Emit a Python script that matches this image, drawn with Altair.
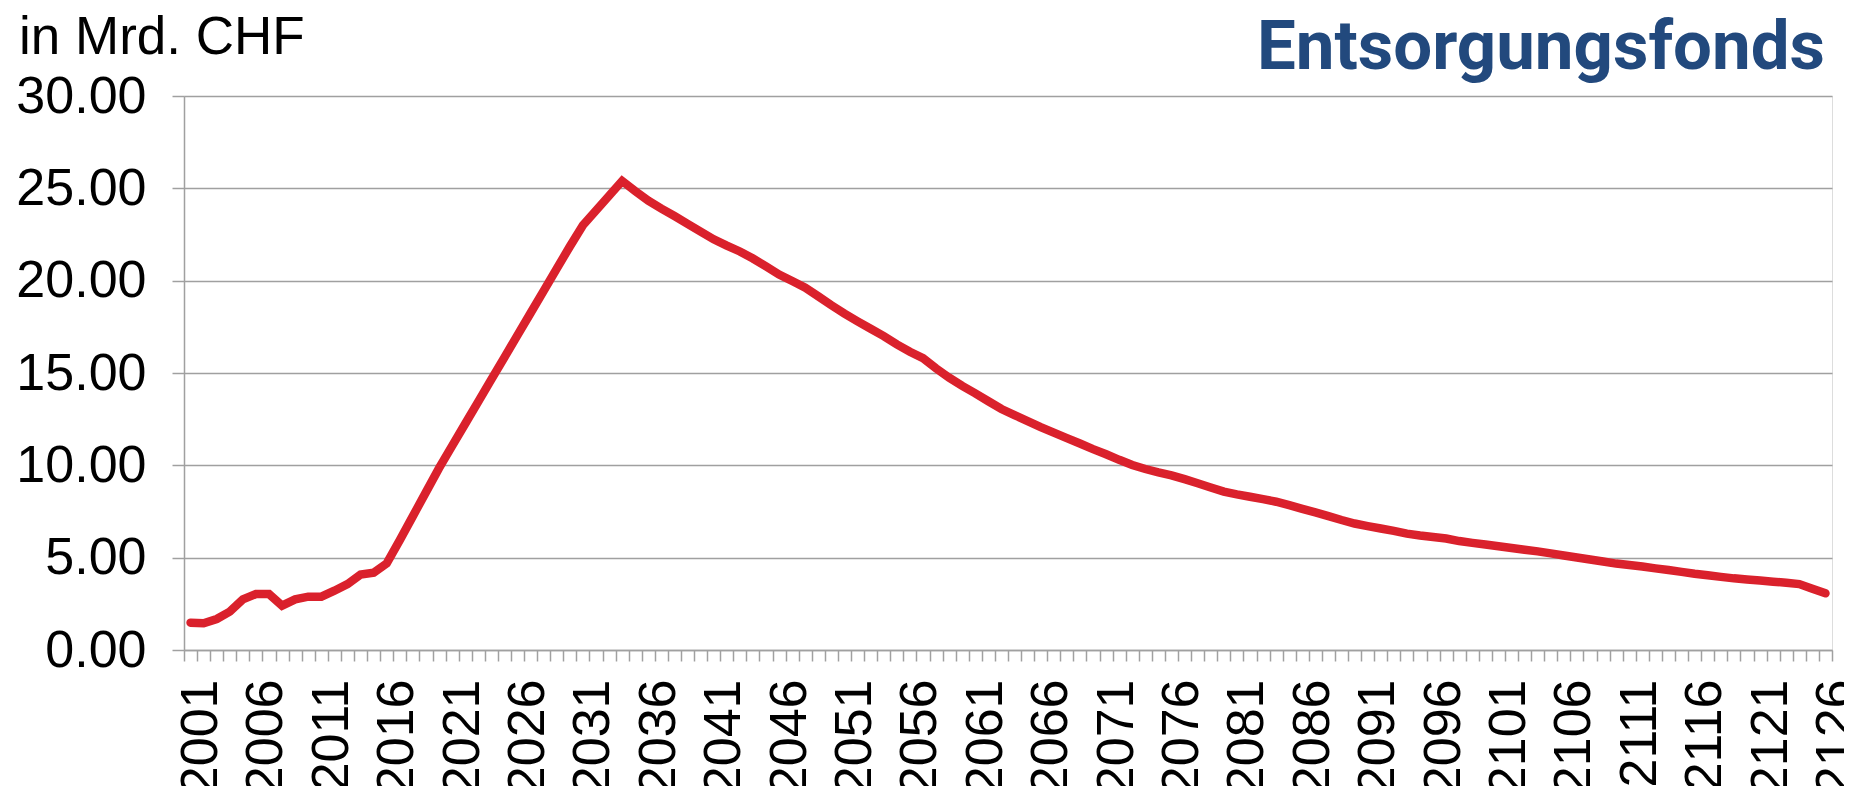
import altair as alt
import pandas as pd

years = list(range(2001, 2127))

values = [
    1.48, 1.45, 1.68, 2.08, 2.74, 3.03, 3.03, 2.40, 2.74, 2.89,
    2.89, 3.21, 3.57, 4.08, 4.19, 4.69, 5.95, 7.25, 8.55, 9.85,
    11.05, 12.25, 13.45, 14.65, 15.85, 17.05, 18.25, 19.45, 20.65, 21.85,
    23.00, 23.80, 24.60, 25.40, 24.85, 24.33, 23.90, 23.50, 23.08, 22.66,
    22.24, 21.90, 21.58, 21.20, 20.77, 20.33, 19.98, 19.62, 19.15, 18.67,
    18.22, 17.80, 17.40, 17.00, 16.55, 16.15, 15.80, 15.25, 14.75, 14.30,
    13.90, 13.47, 13.05, 12.72, 12.40, 12.07, 11.77, 11.47, 11.18, 10.88,
    10.60, 10.30, 10.02, 9.80, 9.62, 9.46, 9.25, 9.03, 8.80, 8.58,
    8.43, 8.30, 8.17, 8.03, 7.84, 7.64, 7.45, 7.25, 7.04, 6.85,
    6.71, 6.58, 6.45, 6.30, 6.20, 6.12, 6.04, 5.90, 5.80, 5.71,
    5.62, 5.52, 5.43, 5.34, 5.23, 5.12, 5.01, 4.90, 4.79, 4.68,
    4.60, 4.52, 4.42, 4.33, 4.23, 4.13, 4.05, 3.96, 3.88, 3.82,
    3.76, 3.70, 3.64, 3.57, 3.32, 3.07,
]

y_ticks = [0, 5, 10, 15, 20, 25, 30]
unit_label = ["in Mrd. CHF"]
title_label = ["Entsorgungsfonds"]

df = pd.DataFrame({"year": years, "value": values})

GRAY = "#A0A0A0"
FONT = "Liberation Sans"

line = alt.Chart(df).mark_line(
    color="#DA212C", strokeWidth=8.5, strokeCap="round", strokeJoin="miter"
).encode(
    x=alt.X(
        "year:O",
        scale=alt.Scale(type="band", paddingInner=0, paddingOuter=0),
        axis=alt.Axis(
            title=None,
            labelAngle=-90,
            labelExpr="(datum.value - 2001) % 5 == 0 ? datum.label : ''",
            labelOverlap=False,
            labelFlush=False,
            labelBound=False,
            labelFont=FONT,
            labelFontSize=52,
            labelColor="black",
            labelPadding=18,
            labelOffset=10,
            tickBand="extent",
            tickSize=11,
            tickColor=GRAY,
            tickWidth=1.5,
            domainColor=GRAY,
            domainWidth=1.5,
            grid=False,
        ),
    ),
    y=alt.Y(
        "value:Q",
        scale=alt.Scale(domain=[0, 30], nice=False, zero=True),
        axis=alt.Axis(
            title=None,
            values=y_ticks,
            format=".2f",
            labelFont=FONT,
            labelFontSize=52,
            labelColor="black",
            labelPadding=26,
            tickSize=12,
            tickColor=GRAY,
            tickWidth=1.5,
            domainColor=GRAY,
            domainWidth=1.5,
            grid=True,
            gridColor=GRAY,
            gridWidth=1.5,
        ),
    ),
)

unit_text = alt.Chart(pd.DataFrame({"t": unit_label})).mark_text(
    align="left", baseline="alphabetic", font=FONT, fontSize=53, color="black"
).encode(x=alt.value(-165), y=alt.value(-42), text="t:N")

title_text = alt.Chart(pd.DataFrame({"t": title_label})).mark_text(
    align="right", baseline="alphabetic", font="Roboto", fontSize=69,
    fontWeight="bold", color="#22497D"
).encode(x=alt.value(1641), y=alt.value(-27), text="t:N")

chart = alt.layer(line, unit_text, title_text).properties(
    width=1648,
    height=554,
    padding={"left": 176, "top": 88, "right": 12, "bottom": 136},
    autosize=alt.AutoSizeParams(type="none"),
).configure_view(stroke=None).configure(background="white")

chart.save("out.html", embed_options={"renderer": "svg", "actions": False})
